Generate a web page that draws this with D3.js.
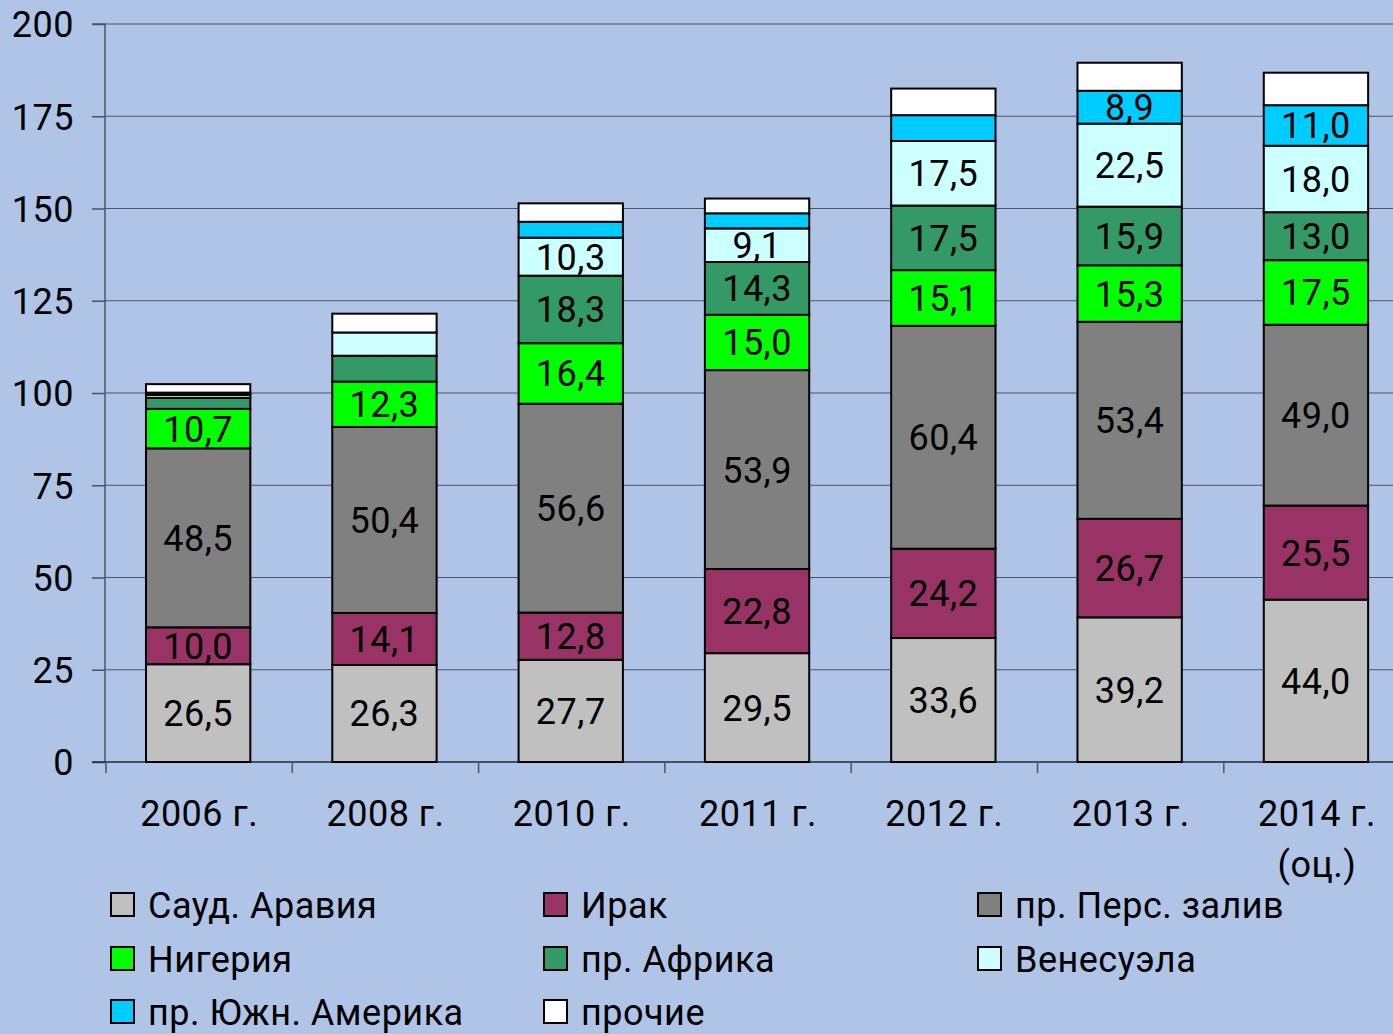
<!DOCTYPE html>
<html><head><meta charset="utf-8">
<script src="https://cdn.jsdelivr.net/npm/d3@7"></script>
<style>body{margin:0;background:#afc4e6;}svg{display:block;}</style>
</head><body>
<script>
const categories = ["2006 г.", "2008 г.", "2010 г.", "2011 г.", "2012 г.", "2013 г.", "2014 г.|(оц.)"];
const seriesNames = ["Сауд. Аравия", "Ирак", "пр. Перс. залив", "Нигерия", "пр. Африка", "Венесуэла", "пр. Южн. Америка", "прочие"];
const colors = ["#c0c0c0", "#993366", "#808080", "#00ff00", "#339966", "#ccffff", "#00ccff", "#ffffff"];
const saudi     = [26.5, 26.3, 27.7, 29.5, 33.6, 39.2, 44.0];
const iraq      = [10.0, 14.1, 12.8, 22.8, 24.2, 26.7, 25.5];
const persian   = [48.5, 50.4, 56.6, 53.9, 60.4, 53.4, 49.0];
const nigeria   = [10.7, 12.3, 16.4, 15.0, 15.1, 15.3, 17.5];
const africa    = [3.0, 7.0, 18.3, 14.3, 17.5, 15.9, 13.0];
const venezuela = [0.8, 6.3, 10.3, 9.1, 17.5, 22.5, 18.0];
const southAm   = [0.6, 0, 4.3, 4.1, 7.0, 8.9, 11.0];
const others    = [2.3, 5.1, 5.0, 4.0, 7.2, 7.6, 8.8];
// which segments carry a label (per series, per category)
const labelled  = [
  [1,1,1,1,1,1,1],
  [1,1,1,1,1,1,1],
  [1,1,1,1,1,1,1],
  [1,1,1,1,1,1,1],
  [0,0,1,1,1,1,1],
  [0,0,1,1,1,1,1],
  [0,0,0,0,0,1,1],
  [0,0,0,0,0,0,0]
];
const yTicks = [0, 25, 50, 75, 100, 125, 150, 175, 200];

const series = [saudi, iraq, persian, nigeria, africa, venezuela, southAm, others];
const W = 1393, H = 1034;
const svg = d3.select("body").append("svg").attr("width", W).attr("height", H)
  .style("font-family", "Roboto, 'DejaVu Sans', sans-serif").style("letter-spacing", "0.5px");

const x0 = 105, bandW = 186.3;
const x = d3.scaleBand().domain(categories).range([x0, x0 + bandW * categories.length]).paddingInner(0.44).paddingOuter(0.22);
const y = d3.scaleLinear().domain([0, 200]).range([762, 24]);

// gridlines
svg.append("g").selectAll("line").data(yTicks.filter(d => d > 0)).join("line")
  .attr("x1", x0).attr("x2", W).attr("y1", d => y(d)).attr("y2", d => y(d))
  .attr("stroke", "#4b5566").attr("stroke-width", 1.2);

// y axis
const yAxis = svg.append("g").attr("transform", `translate(${x0},0)`)
  .call(d3.axisLeft(y).tickValues(yTicks).tickSize(13).tickPadding(18).tickFormat(d3.format("d")));
yAxis.select(".domain").attr("stroke", "#4b5566").attr("stroke-width", 1.5).attr("d", `M-13,${y(200)}H0V${y(0)}`);
yAxis.selectAll(".tick line").attr("stroke", "#4b5566").attr("stroke-width", 1.5);
yAxis.selectAll("text").attr("font-size", 36).attr("fill", "#000").attr("font-family", "Roboto, sans-serif").attr("dy", "0.36em");

// x axis line + band ticks
const xAxis = svg.append("g").attr("transform", `translate(0,${y(0)})`);
xAxis.append("line").attr("x1", x0 - 13).attr("x2", W).attr("y1", 0).attr("y2", 0)
  .attr("stroke", "#222a38").attr("stroke-width", 1.5);
xAxis.selectAll("line.bt").data(d3.range(categories.length)).join("line").attr("class", "bt")
  .attr("x1", i => x0 + 1 + i * bandW).attr("x2", i => x0 + 1 + i * bandW).attr("y1", 0).attr("y2", 11)
  .attr("stroke", "#4b5566").attr("stroke-width", 1.5);
categories.forEach(c => {
  const t = xAxis.append("text").attr("text-anchor", "middle").attr("font-size", 36).attr("fill", "#000");
  c.split("|").forEach((ln, i) => {
    t.append("tspan").attr("x", x(c) + x.bandwidth() / 2 + 1).attr("y", 64 + i * 51).text(ln);
  });
});

// stacked bars
const rows = categories.map((c, i) => {
  const o = {cat: c};
  seriesNames.forEach((s, j) => o[s] = series[j][i]);
  return o;
});
const stack = d3.stack().keys(seriesNames)(rows);
const fmt = v => v.toFixed(1).replace(".", ",");
stack.forEach((layer, j) => {
  const g = svg.append("g");
  g.selectAll("rect").data(layer).join("rect")
    .attr("x", d => x(d.data.cat)).attr("width", x.bandwidth())
    .attr("y", d => y(d[1])).attr("height", d => y(d[0]) - y(d[1]))
    .attr("fill", colors[j]).attr("stroke", "#000").attr("stroke-width", 2);
  g.selectAll("text").data(layer.filter((d, i) => labelled[j][i])).join("text")
    .attr("x", d => x(d.data.cat) + x.bandwidth() / 2)
    .attr("y", d => (y(d[0]) + y(d[1])) / 2 + 13)
    .attr("text-anchor", "middle").attr("font-size", 36).attr("fill", "#000")
    .text(d => fmt(d[1] - d[0]));
});

// legend
const legX = [110, 543, 977], legY = [918, 972, 1025];
seriesNames.forEach((s, j) => {
  const cx = legX[j % 3], by = legY[Math.floor(j / 3)];
  svg.append("rect").attr("x", cx + 1).attr("y", by - 25).attr("width", 23).attr("height", 23)
    .attr("fill", colors[j]).attr("stroke", "#000").attr("stroke-width", 2);
  svg.append("text").attr("x", cx + 38).attr("y", by).attr("font-size", 36).attr("fill", "#000").text(s);
});
</script>
</body></html>
